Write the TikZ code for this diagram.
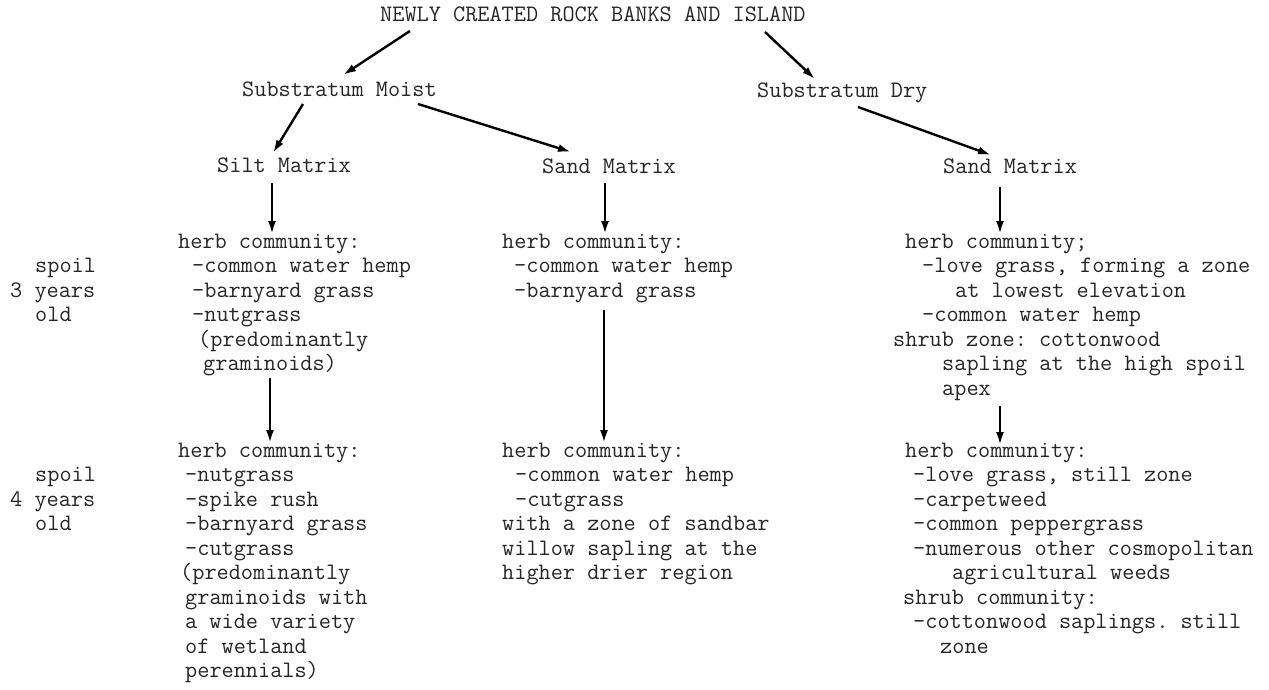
\documentclass[tikz,border=0pt]{standalone}
\usepackage{fontspec}
\usetikzlibrary{arrows.meta}
\newcommand\blk[1]{\begin{tabular}[t]{@{}l@{}}#1\end{tabular}}
\newcommand\ind[1]{\hspace*{#1pt}}
\begin{document}
\frenchspacing
\begin{tikzpicture}[x=1pt,y=-1pt,
  txt/.style={anchor=base west, inner sep=0pt, font=\ttfamily\fontsize{23.6}{24.5}\selectfont\frenchspacing, text=black!85},
  arr/.style={line width=2.4pt, -{Latex[length=13pt,width=8pt]}}]
\useasboundingbox[fill=white] (0,0) rectangle (1269,690);
% headings
\node[txt] (title) at (380,22) {NEWLY CREATED ROCK BANKS AND ISLAND};
\node[txt] (moist) at (242,97) {Substratum Moist};
\node[txt] (dry) at (757,98) {Substratum Dry};
\node[txt] (silt) at (217,172) {Silt Matrix};
\node[txt] (sandm) at (542,173) {Sand Matrix};
\node[txt] (sandd) at (943,173) {Sand Matrix};
% age labels
\node[txt] (age3) at (10,272.5) {\blk{\ind{25}spoil\\3 years\\\ind{25}old}};
\node[txt] (age4) at (10,481.5) {\blk{\ind{25}spoil\\4 years\\\ind{25}old}};
% 3-year communities
\node[txt] (l3) at (178,248) {\blk{herb community:\\\ind{14}-common water hemp\\\ind{14}-barnyard grass\\\ind{14}-nutgrass\\\ind{20}(predominantly\\\ind{25}graminoids)}};
\node[txt] (m3) at (502,248) {\blk{herb community:\\\ind{12}-common water hemp\\\ind{12}-barnyard grass}};
\node[txt] (r3) at (893,248) {\blk{\ind{12}herb community;\\\ind{29}-love grass, forming a zone\\\ind{62}at lowest elevation\\\ind{29}-common water hemp\\shrub zone: cottonwood\\\ind{49}sapling at the high spoil\\\ind{49}apex}};
% 4-year communities
\node[txt] (l4) at (178,457) {\blk{herb community:\\\ind{7}-nutgrass\\\ind{7}-spike rush\\\ind{7}-barnyard grass\\\ind{7}-cutgrass\\\ind{2}(predominantly\\\ind{7}graminoids with\\\ind{7}a wide variety\\\ind{7}of wetland\\\ind{7}perennials)}};
\node[txt] (m4) at (502,457) {\blk{herb community:\\\ind{13}-common water hemp\\\ind{13}-cutgrass\\with a zone of sandbar\\willow sapling at the\\higher drier region}};
\node[txt] (r4) at (903,457) {\blk{\ind{2}herb community:\\\ind{10}-love grass, still zone\\\ind{10}-carpetweed\\\ind{10}-common peppergrass\\\ind{10}-numerous other cosmopolitan\\\ind{49}agricultural weeds\\shrub community:\\\ind{10}-cottonwood saplings. still\\\ind{37}zone}};
% connector end points
\coordinate (t1) at (410,31);   \coordinate (h1) at (343,75);
\coordinate (t2) at (765,32);   \coordinate (h2) at (815,79);
\coordinate (t3) at (303,104);  \coordinate (h3) at (273,153);
\coordinate (t4) at (418,104);  \coordinate (h4) at (571,152);
\coordinate (t5) at (858,107);  \coordinate (h5) at (991,155);
\coordinate (t6) at (272,183);  \coordinate (h6) at (272,234);
\coordinate (t7) at (605,183);  \coordinate (h7) at (605,234);
\coordinate (t8) at (1000,187); \coordinate (h8) at (1000,234);
\coordinate (t9) at (270,378);  \coordinate (h9) at (270,443);
\coordinate (t10) at (604,310); \coordinate (h10) at (604,443);
\coordinate (t11) at (1000,406);\coordinate (h11) at (1000,445);
\draw[arr] (t1) -- (h1);
\draw[arr] (t2) -- (h2);
\draw[arr] (t3) -- (h3);
\draw[arr] (t4) -- (h4);
\draw[arr] (t5) -- (h5);
\draw[arr] (t6) -- (h6);
\draw[arr] (t7) -- (h7);
\draw[arr] (t8) -- (h8);
\draw[arr] (t9) -- (h9);
\draw[arr] (t10) -- (h10);
\draw[arr] (t11) -- (h11);
\end{tikzpicture}
\end{document}
